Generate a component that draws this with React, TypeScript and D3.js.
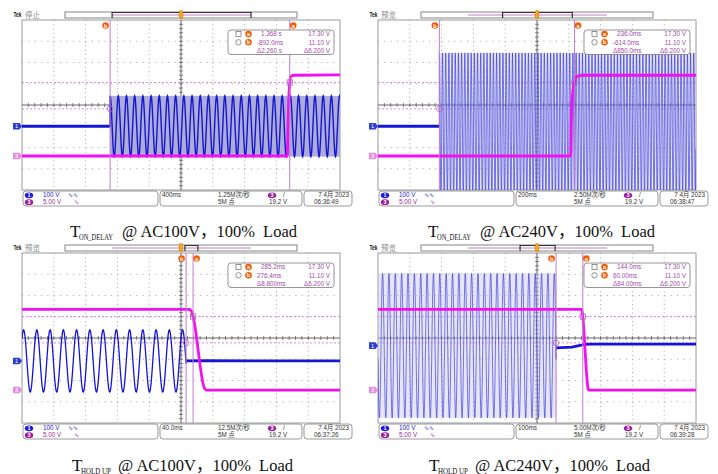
import * as d3 from "d3";

// one Tek graticule: 10 x 8 divisions
const gridW = 318;
const gridH = 170;
const panelX = [22, 378, 22, 378];
const panelY = [20, 20, 253, 253];

// scope settings
const acqState = ["停止", "预览", "预览", "预览"];
const msPerDiv = [400, 200, 40, 100];
const centerMs = [0, 0, 270, 0];
const ch1Pos = [-1, -1, -1.08, -0.36]; // divisions
const ch3Pos = [-2.4, -2.4, -2.45, -2.45];
const ch1VPerDiv = 100;
const ch3VPerDiv = 5;

// cursors (ms) and levels (V on ch3)
const cursorA = [1368, 236, 285.2, 144];
const cursorB = [-892, -614, 276.4, 60];
const levelA = 17.3;
const levelB = 11.1;
const readA = ["1.368 s", "236.0ms", "285.2ms", "144.0ms"];
const readB = ["-892.0ms", "-614.0ms", "276.4ms", "60.00ms"];
const readDelta = ["Δ2.260 s", "Δ850.0ms", "Δ8.800ms", "Δ84.00ms"];
const levelRead = ["17.30 V", "11.10 V", "Δ6.200 V"];

// record bar: on-screen window as fraction of the record
const recWindow = [
  [0.203, 0.802],
  [0.352, 0.652],
  [0.517, 0.573],
  [0.427, 0.578],
];

// ch1 (AC input): flat parts + the AC burst (amplitude, rate, a peak time)
const ch1Before: [number, number][][] = [
  [[-2000, 0], [-892, 0]],
  [[-1000, 0], [-614, 0]],
  [],
  [],
];
const ch1After: [number, number][][] = [
  [],
  [],
  [[276.4, 0], [300, 1], [470, 0]],
  [[60, -10], [110, -7], [150, 6], [170, 7], [500, 7]],
];
const acStart = [-892, -614, 70, -500];
const acEnd = [2000, 1000, 276.4, 60];
const acPeakV = [143, 345, 146, 340];
const acHz = [9.7, 50, 60, 50]; // panel 1: the aliased rate seen on screen
const acPeakAt = [-892, -614, 272, 54.4];
const acBand = [true, true, false, true];

// ch3 (output) trace points [ms, V]
const ch3Trace: [number, number][][] = [
  [[-2000, 0], [1338, 0], [1345, 6], [1355, 13], [1368, 17.3], [1380, 18.7], [1420, 19], [2000, 19.1]],
  [[-1000, 0], [212, 0], [215, 8], [222, 14], [236, 17.3], [250, 18.6], [280, 19], [1000, 19]],
  [[70, 19], [280, 19], [283, 18.6], [285.2, 17.3], [299.5, 0.4], [302, 0], [470, 0]],
  [[-500, 19], [140, 19], [143, 18], [144, 17.3], [161, 0.2], [163, 0], [500, 0]],
];

// status bar
const ch1Scale = "100 V";
const ch3Scale = "5.00 V";
const timebase = ["400ms", "200ms", "40.0ms", "100ms"];
const sampleRate = ["1.25M次/秒", "2.50M次/秒", "12.5M次/秒", "5.00M次/秒"];
const recordLen = "5M 点";
const trigLevel = "19.2 V";
const dateText = "7 4月 2023";
const clock = ["06:36:49", "06:38:47", "06:37:26", "06:39:28"];

// captions
const capSub = ["ON_DELAY", "ON_DELAY", "HOLD UP", "HOLD UP"];
const capInput = ["AC100V", "AC240V", "AC100V", "AC240V"];
const capLoad = "100%";
const capX = [70, 428, 72, 429];
const capBase = [237, 237, 471, 471];

const blue = "#1515d6";
const mag = "#f010f0";
const violet = "#c27ccc";
const orange = "#f25c05";
const purpleTxt = "#a04aa8";
const sans = "'Liberation Sans', Arial, 'Noto Sans CJK SC', sans-serif";

function Label({ x, y, l }: { x: number; y: number; l: string }) {
  return (
    <g>
      <circle cx={x} cy={y} r={3.3} fill={orange} />
      <text x={x} y={y + 2} fontSize={5.5} fontWeight="bold" fill="white" textAnchor="middle" fontFamily={sans}>
        {l}
      </text>
    </g>
  );
}

function ChIcon({ x, y, n, c }: { x: number; y: number; n: string; c: string }) {
  return (
    <g>
      <ellipse cx={x} cy={y} rx={4.2} ry={2.9} fill={c} />
      <text x={x} y={y + 2} fontSize={5.5} fontWeight="bold" fill="white" textAnchor="middle" fontFamily={sans}>
        {n}
      </text>
    </g>
  );
}

function Scope({ i }: { i: number }) {
  const gx = panelX[i];
  const gy = panelY[i];
  const t0 = centerMs[i] - 5 * msPerDiv[i];
  const t1 = centerMs[i] + 5 * msPerDiv[i];
  const x = d3.scaleLinear().domain([t0, t1]).range([gx, gx + gridW]);
  const dv = d3.scaleLinear().domain([-4, 4]).range([gy + gridH, gy]);
  const y1 = (v: number) => dv(v / ch1VPerDiv + ch1Pos[i]);
  const y3 = (v: number) => dv(v / ch3VPerDiv + ch3Pos[i]);
  const line1 = d3.line<[number, number]>().x((d) => x(d[0])).y((d) => y1(d[1]));
  const line3 = d3
    .line<[number, number]>()
    .x((d) => x(d[0]))
    .y((d) => y3(d[1]))
    .curve(d3.curveMonotoneX);

  const period = 1000 / acHz[i];
  const a0 = Math.max(acStart[i], t0);
  const a1 = Math.min(acEnd[i], t1);
  const ts = d3.range(a0, a1, period / 32).concat([a1]);
  const ac: [number, number][] = ts.map((t) => [
    t,
    acPeakV[i] * Math.cos((2 * Math.PI * (t - acPeakAt[i])) / period),
  ]);
  const ch1All = [...ch1Before[i], ...ac, ...ch1After[i]];

  const clipId = `clip${i}`;
  const xa = x(cursorA[i]);
  const xb = x(cursorB[i]);
  const cx = gx + gridW / 2;
  const cy = gy + gridH / 2;

  // graticule
  const vLines = d3.range(1, 10).filter((k) => k !== 5);
  const hLines = d3.range(1, 8).filter((k) => k !== 4);
  const hTicks = d3.range(1, 50).map((k) => gx + (k * gridW) / 50);
  const vTicks = d3.range(1, 40).map((k) => gy + (k * gridH) / 40);

  const barX = gx + 43;
  const barW = 232;
  const sy = gy + gridH + 1;
  const r1 = sy + 6.3;
  const r2 = sy + 13.2;
  const dense = i === 1 || i === 3;

  return (
    <g>
      <defs>
        <clipPath id={clipId}>
          <rect x={gx} y={gy} width={gridW} height={gridH} />
        </clipPath>
      </defs>

      {/* header */}
      <text x={gx - 8.5} y={gy - 3} fontSize={7} fontWeight="bold" fontFamily={sans} fill="#111" textLength={8} lengthAdjust="spacingAndGlyphs">
        Tek
      </text>
      <text x={gx + 3} y={gy - 2.5} fontSize={7.5} fontFamily={sans} fill="#888">
        {acqState[i]}
      </text>

      {/* record bar */}
      <rect x={barX} y={gy - 8} width={barW} height={6} fill="white" stroke="#666" strokeWidth={0.8} />
      <line x1={barX + 0.203 * barW} x2={barX + 0.802 * barW} y1={gy - 5} y2={gy - 5} stroke="#b35db8" strokeWidth={0.8} />
      {recWindow[i].map((f, k) => (
        <line key={k} x1={barX + f * barW} x2={barX + f * barW} y1={gy - 8} y2={gy - 2} stroke="#111" strokeWidth={1} />
      ))}
      <line x1={barX + recWindow[i][0] * barW} x2={barX + recWindow[i][1] * barW} y1={gy - 7.5} y2={gy - 7.5} stroke="#111" strokeWidth={0.8} />
      <rect x={cx - 1.8} y={gy - 9.5} width={3.6} height={8} rx={1.5} fill="#f5a623" stroke="#c77800" strokeWidth={0.6} />

      {/* graticule */}
      <rect x={gx} y={gy} width={gridW} height={gridH} fill="white" stroke="#9a9a9a" strokeWidth={1} />
      {vLines.map((k) => (
        <line key={"v" + k} x1={gx + (k * gridW) / 10} x2={gx + (k * gridW) / 10} y1={gy} y2={gy + gridH} stroke="#9a9a9a" strokeWidth={0.9} strokeDasharray="1,3.25" />
      ))}
      {hLines.map((k) => (
        <line key={"h" + k} x1={gx} x2={gx + gridW} y1={gy + (k * gridH) / 8} y2={gy + (k * gridH) / 8} stroke="#9a9a9a" strokeWidth={0.9} strokeDasharray="1,5.36" />
      ))}
      <line x1={gx} x2={gx + gridW} y1={cy} y2={cy} stroke="#555" strokeWidth={0.9} />
      <line x1={cx} x2={cx} y1={gy} y2={gy + gridH} stroke="#555" strokeWidth={0.9} />
      {hTicks.map((t, k) => (
        <line key={"ht" + k} x1={t} x2={t} y1={cy - 2} y2={cy + 2} stroke="#555" strokeWidth={0.7} />
      ))}
      {vTicks.map((t, k) => (
        <line key={"vt" + k} x1={cx - 2} x2={cx + 2} y1={t} y2={t} stroke="#555" strokeWidth={0.7} />
      ))}

      <g clipPath={`url(#${clipId})`}>
        {/* horizontal level cursors */}
        {[levelA, levelB].map((v, k) => (
          <line key={"lv" + k} x1={gx} x2={gx + gridW} y1={y3(v)} y2={y3(v)} stroke="#dc7adc" strokeWidth={0.9} strokeDasharray="2,2" />
        ))}

        {/* ch1 */}
        {acBand[i] && (
          <rect
            x={x(a0)}
            y={y1(acPeakV[i])}
            width={x(a1) - x(a0)}
            height={y1(-acPeakV[i]) - y1(acPeakV[i])}
            fill={i === 0 ? "#acacd6" : "#c8c8ee"}
            opacity={i === 0 ? 1 : 0.45}
          />
        )}
        <path
          d={line1(ch1All) ?? ""}
          fill="none"
          stroke={blue}
          strokeOpacity={dense ? 0.65 : 1}
          strokeWidth={i === 0 ? 1.4 : i === 2 ? 1.3 : 0.85}
        />
        {[ch1Before[i], ch1After[i]]
          .filter((s) => s.length)
          .map((s, k) => (
            <path key={"f" + k} d={line1(s) ?? ""} fill="none" stroke={blue} strokeWidth={2.8} />
          ))}

        {/* ch3 */}
        <path d={line3(ch3Trace[i]) ?? ""} fill="none" stroke={mag} strokeWidth={2.8} />

        {/* time cursors */}
        <line x1={xa} x2={xa} y1={gy} y2={gy + gridH} stroke={violet} strokeWidth={1} />
        <line x1={xb} x2={xb} y1={gy} y2={gy + gridH} stroke={violet} strokeWidth={1} />
        <rect x={xa - 2.6} y={y3(levelA) - 2.6} width={5.2} height={5.2} fill="none" stroke="#b060b8" strokeWidth={0.8} />
        <circle cx={xb} cy={y3(levelB)} r={2.8} fill="none" stroke="#b060b8" strokeWidth={0.8} />
      </g>

      <Label x={xb - 4.5} y={gy + 5.5} l="b" />
      <Label x={xa + 3.5} y={gy + 5.5} l="a" />

      {/* readout */}
      <rect x={gx + 206} y={gy + 10} width={106} height={24.5} rx={3} fill="white" stroke="#7a7a7a" strokeWidth={0.8} />
      <rect x={gx + 214} y={gy + 11.6} width={5} height={5} fill="none" stroke="#666" strokeWidth={0.7} />
      <Label x={gx + 226.5} y={gy + 14.1} l="a" />
      <circle cx={gx + 216.5} cy={gy + 22.3} r={2.7} fill="none" stroke="#666" strokeWidth={0.7} />
      <Label x={gx + 226.5} y={gy + 22.3} l="b" />
      <g fontFamily={sans} fontSize={6.3} fill={purpleTxt}>
        <text x={gx + 239} y={gy + 16.3}>{readA[i]}</text>
        <text x={gx + 235} y={gy + 24.5}>{readB[i]}</text>
        <text x={gx + 235} y={gy + 32.7}>{readDelta[i]}</text>
        <text x={gx + 308} y={gy + 16.3} textAnchor="end">{levelRead[0]}</text>
        <text x={gx + 308} y={gy + 24.5} textAnchor="end">{levelRead[1]}</text>
        <text x={gx + 308} y={gy + 32.7} textAnchor="end">{levelRead[2]}</text>
      </g>

      {/* channel markers */}
      <path d={`M${gx - 9},${y1(0) - 3.3}h6.5l2.5,3.3l-2.5,3.3h-6.5z`} fill="#2a3fd0" />
      <text x={gx - 5.5} y={y1(0) + 2.1} fontSize={5.5} fill="white" textAnchor="middle" fontFamily={sans}>1</text>
      <path d={`M${gx - 9},${y3(0) - 3.3}h6.5l2.5,3.3l-2.5,3.3h-6.5z`} fill="#e58ee0" />
      <text x={gx - 5.5} y={y3(0) + 2.1} fontSize={5.5} fill="white" textAnchor="middle" fontFamily={sans}>3</text>

      {/* status bar */}
      <g fill="white" stroke="#808080" strokeWidth={0.8}>
        <rect x={gx + 1} y={sy} width={135} height={15} rx={3} />
        <rect x={gx + 138} y={sy} width={142} height={15} rx={3} />
        <rect x={gx + 282} y={sy} width={48} height={15} rx={3} />
      </g>
      <ChIcon x={gx + 7} y={sy + 4.3} n="1" c="#1a1ad8" />
      <ChIcon x={gx + 7} y={sy + 11.2} n="3" c="#9b1f9b" />
      <ChIcon x={gx + 250} y={sy + 4.3} n="3" c="#9b1f9b" />
      <g fontFamily={sans} fontSize={6.3} fill="#333">
        <text x={gx + 21} y={r1} fill="#2222cc">{ch1Scale}</text>
        <text x={gx + 46} y={r1} fill="#2222cc">∿∿</text>
        <text x={gx + 21} y={r2} fill="#9b1f9b">{ch3Scale}</text>
        <text x={gx + 52} y={r2} fill="#9b1f9b">∿</text>
        <text x={gx + 140} y={r1}>{timebase[i]}</text>
        <text x={gx + 196} y={r1}>{sampleRate[i]}</text>
        <text x={gx + 196} y={r2}>{recordLen}</text>
        <text x={gx + 261} y={r1}>/</text>
        <text x={gx + 247} y={r2}>{trigLevel}</text>
        <text x={gx + 327} y={r1} textAnchor="end">{dateText}</text>
        <text x={gx + 292} y={r2}>{clock[i]}</text>
      </g>

      {/* caption */}
      <g fontFamily="'Liberation Serif', 'DejaVu Serif', 'Noto Sans CJK SC', serif" fill="#111">
        <text x={capX[i]} y={capBase[i]} fontSize={17}>T</text>
        <text x={capX[i] + 9} y={capBase[i] + 2.5} fontSize={8.5} textLength={i < 2 ? 34 : 30} lengthAdjust="spacingAndGlyphs">
          {capSub[i]}
        </text>
        <text
          x={capX[i] + (i < 2 ? 52 : 46)}
          y={capBase[i]}
          fontSize={17}
          style={{ whiteSpace: "pre" }}
          textLength={175}
          lengthAdjust="spacingAndGlyphs"
        >
          {`@ ${capInput[i]}，${capLoad}  Load`}
        </text>
      </g>
    </g>
  );
}

export default function App() {
  return (
    <svg
      width={718}
      height={474}
      viewBox="0 0 718 474"
      style={{ position: "absolute", left: 0, top: 0, background: "white" }}
    >
      {[0, 1, 2, 3].map((i) => (
        <Scope key={i} i={i} />
      ))}
    </svg>
  );
}
